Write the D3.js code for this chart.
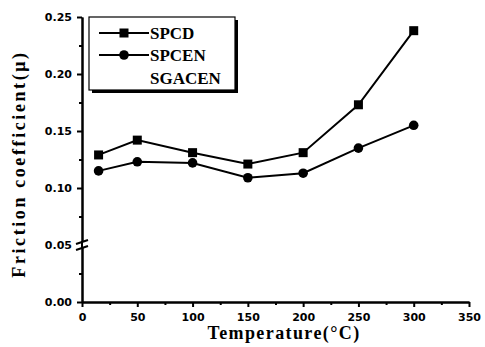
<!DOCTYPE html>
<html><head><meta charset="utf-8">
<script src="https://cdn.jsdelivr.net/npm/d3@7"></script>
<style>body{margin:0;background:#fff}svg{display:block}
.serif{font-family:"Liberation Serif","DejaVu Serif","Times New Roman",serif}
.sans{font-family:"DejaVu Sans","Liberation Sans",Arial,sans-serif}</style>
</head><body><svg id="c" width="485" height="347"></svg>
<script>
const temps = [15, 50, 100, 150, 200, 250, 300];
const spcd = [0.129, 0.142, 0.131, 0.121, 0.131, 0.173, 0.238];
const spcen = [0.115, 0.123, 0.122, 0.109, 0.113, 0.135, 0.155];
const xTicks = [0, 50, 100, 150, 200, 250, 300, 350];
const yTicks = [0.00, 0.05, 0.10, 0.15, 0.20, 0.25];
const legendNames = ["SPCD", "SPCEN", "SGACEN"];

const svg = d3.select("#c");
const x = d3.scaleLinear().domain([0, 350]).range([82, 469]);
const y = d3.scaleLinear().domain([0, 0.25]).range([302, 17]);

const xa = svg.append("g").attr("transform", "translate(0,302)")
  .call(d3.axisBottom(x).tickValues(xTicks).tickFormat(d3.format("d")).tickSize(5).tickSizeOuter(0));
const xm = svg.append("g").attr("transform", "translate(0,302)")
  .call(d3.axisBottom(x).tickValues(d3.range(25, 350, 50)).tickFormat("").tickSize(3).tickSizeOuter(0));
const ya = svg.append("g").attr("transform", "translate(82,0)")
  .call(d3.axisLeft(y).tickValues(yTicks).tickFormat(d3.format(".2f")).tickSize(5).tickSizeOuter(0));
const ym = svg.append("g").attr("transform", "translate(82,0)")
  .call(d3.axisLeft(y).tickValues(d3.range(0.025, 0.25, 0.05)).tickFormat("").tickSize(3).tickSizeOuter(0));
[xa, xm, ya, ym].forEach(g => {
  g.attr("font-family", null).attr("font-size", null);
  g.selectAll(".domain").attr("stroke", "#000").attr("stroke-width", 2);
  g.selectAll(".tick line").attr("stroke", "#000").attr("stroke-width", 2);
  g.selectAll("text").attr("fill", "#000").attr("class", "sans")
    .attr("font-weight", "bold").attr("font-size", 11);
});
xa.selectAll("text").attr("dy", "1.0em");
ya.selectAll("text").attr("dx", "-2px");

const yb = y(0.05);
svg.append("rect").attr("x", 77).attr("y", yb - 3).attr("width", 10).attr("height", 6).attr("fill", "#fff");
[-3, 3].forEach(o => svg.append("line")
  .attr("x1", 76).attr("y1", yb + o + 2).attr("x2", 88).attr("y2", yb + o - 2)
  .attr("stroke", "#000").attr("stroke-width", 2));
svg.append("line").attr("x1", 82).attr("x2", 82).attr("y1", yb - 4).attr("y2", yb + 4)
  .attr("stroke", "#000").attr("stroke-width", 2);

svg.append("text").attr("class", "serif").attr("x", 284).attr("y", 339).attr("text-anchor", "middle")
  .attr("font-size", 18).attr("font-weight", "bold").attr("letter-spacing", 1.4)
  .attr("fill", "#000").text("Temperature(°C)");
svg.append("text").attr("class", "serif").attr("transform", "translate(25,164) rotate(-90)").attr("text-anchor", "middle")
  .attr("font-size", 18).attr("font-weight", "bold").attr("fill", "#000").attr("letter-spacing", 2.6)
  .text("Friction coefficient(μ)");

const line = d3.line().x((d, i) => x(temps[i])).y(d => y(d));
svg.append("path").datum(spcd).attr("d", line).attr("fill", "none").attr("stroke", "#000").attr("stroke-width", 2);
svg.append("path").datum(spcen).attr("d", line).attr("fill", "none").attr("stroke", "#000").attr("stroke-width", 2);
svg.selectAll(".sq").data(spcd).join("rect")
  .attr("x", (d, i) => x(temps[i]) - 4.5).attr("y", d => y(d) - 4.5)
  .attr("width", 9).attr("height", 9).attr("fill", "#000");
svg.selectAll(".ci").data(spcen).join("circle")
  .attr("cx", (d, i) => x(temps[i])).attr("cy", d => y(d)).attr("r", 4.8).attr("fill", "#000");

const lg = svg.append("g");
lg.append("rect").attr("x", 92).attr("y", 20).attr("width", 146).attr("height", 73).attr("fill", "#000");
lg.append("rect").attr("x", 89).attr("y", 17).attr("width", 146).attr("height", 73)
  .attr("fill", "#fff").attr("stroke", "#000").attr("stroke-width", 1.2);
const rowY = [33, 55, 78];
legendNames.forEach((n, i) => {
  if (i < 2) {
    lg.append("line").attr("x1", 99).attr("x2", 149).attr("y1", rowY[i]).attr("y2", rowY[i])
      .attr("stroke", "#000").attr("stroke-width", 2);
    if (i === 0) lg.append("rect").attr("x", 119.5).attr("y", rowY[i] - 4.5).attr("width", 9).attr("height", 9).attr("fill", "#000");
    else lg.append("circle").attr("cx", 124).attr("cy", rowY[i]).attr("r", 4.8).attr("fill", "#000");
  }
  lg.append("text").attr("class", "serif").attr("x", 150).attr("y", rowY[i] + 6)
    .attr("font-weight", "bold").attr("font-size", 17).attr("fill", "#000").text(n);
});
</script></body></html>
